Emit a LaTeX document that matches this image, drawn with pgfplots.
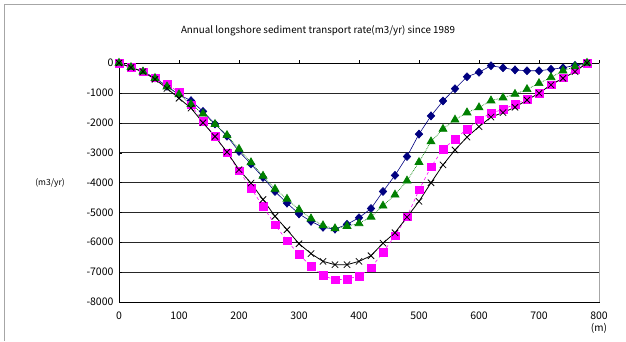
\documentclass[border=0pt]{standalone}
\usepackage{fontspec}
\setmainfont{Noto Sans CJK JP}
\usepackage{pgfplots}
\pgfplotsset{compat=1.18}
\usepackage{pgfplotstable}
\definecolor{cnavy}{RGB}{0,0,128}
\definecolor{cgreen}{RGB}{0,128,0}
\definecolor{cmag}{RGB}{255,0,255}
\pgfplotstableread{
x blue green mag black
0 0 0 0 0
20 -140 -145 -150 -150
40 -290 -290 -290 -290
60 -500 -510 -500 -545
80 -780 -790 -710 -850
100 -1060 -1050 -980 -1180
120 -1260 -1380 -1400 -1510
140 -1620 -1700 -1960 -2000
160 -2040 -2050 -2460 -2460
180 -2450 -2420 -3010 -2980
200 -2960 -2880 -3610 -3570
220 -3380 -3330 -4190 -4020
240 -3830 -3780 -4800 -4570
260 -4300 -4220 -5410 -5130
280 -4690 -4550 -5950 -5580
300 -5050 -4910 -6410 -6050
320 -5300 -5210 -6800 -6380
340 -5500 -5440 -7110 -6640
360 -5560 -5540 -7260 -6750
380 -5400 -5460 -7230 -6750
400 -5180 -5370 -7130 -6640
420 -4870 -5150 -6860 -6450
440 -4300 -4780 -6340 -6030
460 -3760 -4410 -5780 -5680
480 -3130 -3940 -5150 -5160
500 -2380 -3320 -4250 -4630
520 -1770 -2630 -3480 -4010
540 -1270 -2210 -2880 -3410
560 -860 -1900 -2550 -2910
580 -460 -1660 -2210 -2480
600 -310 -1490 -1900 -2130
620 -90 -1260 -1680 -1810
640 -160 -1160 -1550 -1660
660 -230 -1040 -1380 -1480
680 -260 -880 -1210 -1240
700 -260 -680 -1010 -1010
720 -210 -480 -730 -730
740 -160 -260 -490 -510
760 -80 -120 -230 -290
780 0 0 0 0
}\data
\begin{document}
\begin{tikzpicture}[x=1pt,y=1pt]
\useasboundingbox (0,0) rectangle (626,341);
\draw[gray!70,line width=0.8pt] (4,0) -- (4,337) -- (626,337);
\node[font=\fontsize{9.8}{11}\selectfont] at (318,310) {Annual longshore sediment transport rate(m3/yr) since 1989};
\node[font=\fontsize{8.5}{9}\selectfont] at (50,158) {(m3/yr)};
\node[font=\fontsize{10}{11}\selectfont] at (599,13) {(m)};
\begin{axis}[
  at={(119pt,39pt)}, anchor=south west,
  scale only axis, width=480pt, height=239pt,
  xmin=0, xmax=800, ymin=-8000, ymax=0,
  xtick={0,100,...,800}, ytick={-8000,-7000,...,0},
  xtick pos=upper, xticklabel pos=lower,
  ytick pos=left,
  tick align=inside,
  major tick length=3pt,
  x tick style={yshift=3pt,black},
  y tick style={black},
  ymajorgrids, grid style={black!85, line width=0.5pt},
  axis line style={black},
  /pgf/number format/assume math mode=true,
  /pgf/number format/1000 sep={},
  tick label style={font=\fontsize{10.5}{11}\selectfont},
  xticklabel style={yshift=-6pt},
  yticklabel style={xshift=-2pt},
  clip=false,
]
\draw[gray!70,line width=0.8pt] (axis cs:800,0) -- (axis cs:800,-8000);
\addplot[cnavy, line width=0.6pt, mark=diamond*, mark size=4pt, mark options={solid,fill=cnavy,xscale=1.25}] table[x=x,y=blue]{\data};
\addplot[cmag, line width=0.6pt, dashed, mark=square*, mark size=3.8pt, mark options={solid,fill=cmag,draw=cmag}] table[x=x,y=mag]{\data};
\addplot[cgreen, line width=0.7pt, densely dotted, mark=triangle*, mark size=4.6pt, mark options={solid,fill=cgreen}] table[x=x,y=green]{\data};
\addplot[black, line width=0.8pt, mark=x, mark size=4.5pt, mark options={solid,line width=0.8pt}] table[x=x,y=black]{\data};
\end{axis}
\end{tikzpicture}
\end{document}
